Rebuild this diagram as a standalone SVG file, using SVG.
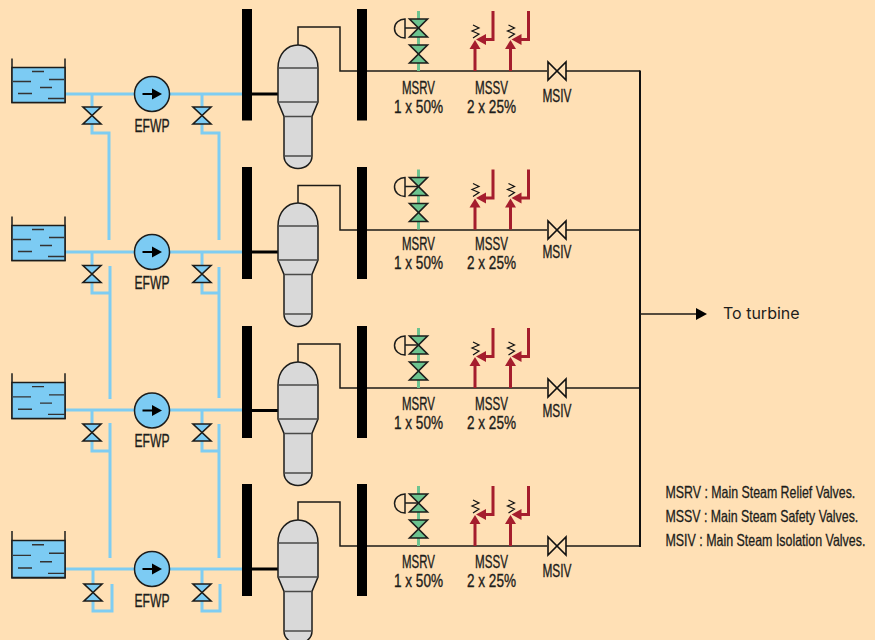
<svg xmlns="http://www.w3.org/2000/svg" xmlns:xlink="http://www.w3.org/1999/xlink" width="875" height="640" viewBox="0 0 875 640">
<style>
.pipe{fill:none;stroke:#7fcdf2;stroke-width:3}
.steam{fill:none;stroke:#1c1a16;stroke-width:1.5}
.main{fill:none;stroke:#111;stroke-width:2}
.link{fill:none;stroke:#000;stroke-width:3}
.bus{fill:#000}
.out{stroke:#1d1d1b;stroke-width:1.5}
.dash{stroke:#333;stroke-width:1.3}
.red{fill:none;stroke:#a51d2d;stroke-width:3}
.redh{fill:#a51d2d}
.lbl{font-family:"Liberation Sans",sans-serif;font-size:17.5px;fill:#1d1d1b;stroke:#1d1d1b;stroke-width:.35;text-anchor:middle}
.leg{font-family:"Liberation Sans",sans-serif;font-size:16.5px;fill:#1d1d1b;stroke:#1d1d1b;stroke-width:.3}
.tb{font-family:Inter,"Liberation Sans",sans-serif;font-size:16px;fill:#1d1d1b}
</style>
<defs>
<g id="feedvalve"><path d="M-9,-8.500H9L-9,8.500H9Z" fill="#7ccbf3" stroke="#1d1d1b" stroke-width="1.600"/></g>
<g id="greenvalve"><path d="M-9,-9H9L-9,9H9Z" fill="#6cc38f" stroke="#1d1d1b" stroke-width="1.600"/></g>
<g id="isovalve"><path d="M-9,-9V9L9,-9V9Z" fill="#ffe0b5" stroke="#111" stroke-width="1.600"/></g>
<g id="pumpsym">
<circle r="17.500" fill="#7ccbf3" class="out"/>
<path d="M-9.500,0H1" stroke="#000" stroke-width="2"/>
<path d="M0,-5.500L10,0L0,5.500Z" fill="#000"/>
</g>
<g id="tanksym">
<path d="M0,-9V35H53V-9" fill="none" class="out"/>
<path d="M0,0H53V35H0Z" fill="#7ccbf3" class="out"/>
<path class="dash" d="M20,4H32M37,12H52M1,14H19M28,20H40M6,26H20M36,31H53"/>
</g>
<g id="vesselsym">
<path d="M278,68C278,54 287,45 298,45C309,45 318,54 318,68V102L312,116.500V156C312,163 306,168.500 298,168.500C290,168.500 284,163 284,156V116.500L278,102Z" fill="#d9d9d9" class="out"/>
<path d="M278,68H318M278,102H318M284,116.500H312M284,156H312" fill="none" stroke="#4a4a48" stroke-width="1.500"/>
</g>
<g id="msrvsym">
<path d="M418.500,11V71" stroke="#6cc38f" stroke-width="3"/>
<use xlink:href="#greenvalve" x="418.500" y="28"/>
<use xlink:href="#greenvalve" x="418.500" y="54"/>
<path d="M405,28H418M405,19A10.500,9.500 0 0 0 405,38Z" fill="none" class="out"/>
</g>
<g id="mssvsym">
<path class="red" d="M475,71V48"/>
<path class="redh" d="M475,40L480.500,49H469.500Z"/>
<path class="red" d="M493,11V39.500H485"/>
<path class="redh" d="M476,39.500L486,34V45Z"/>
<path d="M473,25L479,28L472,31L479,34L473,38" fill="none" stroke="#111" stroke-width="1.200"/>
</g>
</defs>
<rect width="875" height="640" fill="#ffe0b5"/>
<g id="connectors">
<g id="feedwater">
<path class="pipe" d="M65,94H135M169,94H242M92,94V107M202,94V107M92,124V133H109V240M202,124V133H219V240"/>
<path class="pipe" d="M65,252H135M169,252H242M92,252V265M202,252V265M92,283V293H110M202,283V293H219M110,266V399M219,267V398"/>
<path class="pipe" d="M65,410H135M169,410H242M92,410V424M202,410V424M92,441V451H110M202,441V451H219M110,423V558M219,424V558"/>
<path class="pipe" d="M65,569H135M169,569H242M93,569V584M202,569V584M93,601V611H112V584M202,601V611H220V584"/>
</g>
<g id="links">
<path class="link" d="M252,94H278M252,252H278M252,410.500H278M252,569H278"/>
</g>
<g id="steam">
<path class="steam" d="M298,45V27H340V71H547M566,71H640"/>
<path class="steam" d="M298,203V185.500H340V230H547M566,230H640"/>
<path class="steam" d="M298,362V344H340V388H547M566,388H640"/>
<path class="steam" d="M298,520V502H340V546H547M566,546H640"/>
<path class="main" d="M640,70.500V547"/>
<path class="steam" d="M640,314H697"/>
<path d="M696,308L707,314L696,320Z" fill="#000"/>
</g>
</g>
<g id="tank-1"><use xlink:href="#tanksym" x="12" y="67.500"/></g>
<g id="tank-2"><use xlink:href="#tanksym" x="12" y="225.500"/></g>
<g id="tank-3"><use xlink:href="#tanksym" transform="translate(12,382.500) scale(1,1.030)"/></g>
<g id="tank-4"><use xlink:href="#tanksym" transform="translate(12,540.500) scale(1,1.060)"/></g>
<g id="pump-1"><use xlink:href="#pumpsym" x="152" y="94"/><text class="lbl" transform="translate(152,132) scale(.7,1)" textLength="50" lengthAdjust="spacingAndGlyphs">EFWP</text></g>
<g id="pump-2"><use xlink:href="#pumpsym" x="152" y="252"/><text class="lbl" transform="translate(152,289) scale(.7,1)" textLength="50" lengthAdjust="spacingAndGlyphs">EFWP</text></g>
<g id="pump-3"><use xlink:href="#pumpsym" x="152" y="410.500"/><text class="lbl" transform="translate(152,447) scale(.7,1)" textLength="50" lengthAdjust="spacingAndGlyphs">EFWP</text></g>
<g id="pump-4"><use xlink:href="#pumpsym" x="152" y="569"/><text class="lbl" transform="translate(152,607) scale(.7,1)" textLength="50" lengthAdjust="spacingAndGlyphs">EFWP</text></g>
<g id="feed-valves">
<use xlink:href="#feedvalve" x="92" y="115.500"/><use xlink:href="#feedvalve" x="202" y="115.500"/>
<use xlink:href="#feedvalve" x="92" y="274"/><use xlink:href="#feedvalve" x="202" y="274"/>
<use xlink:href="#feedvalve" x="92" y="432.500"/><use xlink:href="#feedvalve" x="202" y="432.500"/>
<use xlink:href="#feedvalve" x="93" y="592.500"/><use xlink:href="#feedvalve" x="202" y="592.500"/>
</g>
<g id="header-1"><rect class="bus" x="242" y="9" width="10" height="111.500"/><rect class="bus" x="357" y="9" width="10" height="111.500"/></g>
<g id="header-2"><rect class="bus" x="242" y="167" width="10" height="112"/><rect class="bus" x="357" y="167" width="10" height="112"/></g>
<g id="header-3"><rect class="bus" x="242" y="326" width="10" height="112"/><rect class="bus" x="357" y="326" width="10" height="112"/></g>
<g id="header-4"><rect class="bus" x="242" y="484" width="10" height="112"/><rect class="bus" x="357" y="484" width="10" height="112"/></g>
<g id="vessel-1"><use xlink:href="#vesselsym"/></g>
<g id="vessel-2"><use xlink:href="#vesselsym" y="158"/></g>
<g id="vessel-3"><use xlink:href="#vesselsym" y="317"/></g>
<g id="vessel-4"><use xlink:href="#vesselsym" y="475"/></g>
<g id="msrv-1"><use xlink:href="#msrvsym"/><text class="lbl" transform="translate(418.500,93.500) scale(.7,1)" textLength="47" lengthAdjust="spacingAndGlyphs">MSRV</text><text class="lbl" transform="translate(418.500,112.500) scale(.7,1)" textLength="70" lengthAdjust="spacingAndGlyphs">1 x 50%</text></g>
<g id="msrv-2"><use xlink:href="#msrvsym" y="158.500"/><text class="lbl" transform="translate(418.500,249.500) scale(.7,1)" textLength="47" lengthAdjust="spacingAndGlyphs">MSRV</text><text class="lbl" transform="translate(418.500,268.500) scale(.7,1)" textLength="70" lengthAdjust="spacingAndGlyphs">1 x 50%</text></g>
<g id="msrv-3"><use xlink:href="#msrvsym" y="317"/><text class="lbl" transform="translate(418.500,409.500) scale(.7,1)" textLength="47" lengthAdjust="spacingAndGlyphs">MSRV</text><text class="lbl" transform="translate(418.500,428.500) scale(.7,1)" textLength="70" lengthAdjust="spacingAndGlyphs">1 x 50%</text></g>
<g id="msrv-4"><use xlink:href="#msrvsym" y="475"/><text class="lbl" transform="translate(418.500,568) scale(.7,1)" textLength="47" lengthAdjust="spacingAndGlyphs">MSRV</text><text class="lbl" transform="translate(418.500,587) scale(.7,1)" textLength="70" lengthAdjust="spacingAndGlyphs">1 x 50%</text></g>
<g id="mssv-1"><use xlink:href="#mssvsym"/><use xlink:href="#mssvsym" x="35.500"/><text class="lbl" transform="translate(491.500,93.500) scale(.7,1)" textLength="47" lengthAdjust="spacingAndGlyphs">MSSV</text><text class="lbl" transform="translate(491.500,112.500) scale(.7,1)" textLength="70" lengthAdjust="spacingAndGlyphs">2 x 25%</text></g>
<g id="mssv-2"><use xlink:href="#mssvsym" y="158.500"/><use xlink:href="#mssvsym" x="35.500" y="158.500"/><text class="lbl" transform="translate(491.500,249.500) scale(.7,1)" textLength="47" lengthAdjust="spacingAndGlyphs">MSSV</text><text class="lbl" transform="translate(491.500,268.500) scale(.7,1)" textLength="70" lengthAdjust="spacingAndGlyphs">2 x 25%</text></g>
<g id="mssv-3"><use xlink:href="#mssvsym" y="317"/><use xlink:href="#mssvsym" x="35.500" y="317"/><text class="lbl" transform="translate(491.500,409.500) scale(.7,1)" textLength="47" lengthAdjust="spacingAndGlyphs">MSSV</text><text class="lbl" transform="translate(491.500,428.500) scale(.7,1)" textLength="70" lengthAdjust="spacingAndGlyphs">2 x 25%</text></g>
<g id="mssv-4"><use xlink:href="#mssvsym" y="475"/><use xlink:href="#mssvsym" x="35.500" y="475"/><text class="lbl" transform="translate(491.500,568) scale(.7,1)" textLength="47" lengthAdjust="spacingAndGlyphs">MSSV</text><text class="lbl" transform="translate(491.500,587) scale(.7,1)" textLength="70" lengthAdjust="spacingAndGlyphs">2 x 25%</text></g>
<g id="msiv-1"><use xlink:href="#isovalve" x="557" y="71"/><text class="lbl" transform="translate(557,101.500) scale(.7,1)" textLength="41.500" lengthAdjust="spacingAndGlyphs">MSIV</text></g>
<g id="msiv-2"><use xlink:href="#isovalve" x="557" y="230"/><text class="lbl" transform="translate(557,257.500) scale(.7,1)" textLength="41.500" lengthAdjust="spacingAndGlyphs">MSIV</text></g>
<g id="msiv-3"><use xlink:href="#isovalve" x="557" y="388"/><text class="lbl" transform="translate(557,416.500) scale(.7,1)" textLength="41.500" lengthAdjust="spacingAndGlyphs">MSIV</text></g>
<g id="msiv-4"><use xlink:href="#isovalve" x="557" y="546"/><text class="lbl" transform="translate(557,577) scale(.7,1)" textLength="41.500" lengthAdjust="spacingAndGlyphs">MSIV</text></g>
<g id="turbine-label"><text class="tb" x="723" y="319">To turbine</text></g>
<g id="legend">
<text class="leg" transform="translate(665.500,497.500) scale(.75,1)" textLength="253" lengthAdjust="spacingAndGlyphs">MSRV : Main Steam Relief Valves.</text>
<text class="leg" transform="translate(665.500,521.500) scale(.75,1)" textLength="257" lengthAdjust="spacingAndGlyphs">MSSV : Main Steam Safety Valves.</text>
<text class="leg" transform="translate(665.500,545.500) scale(.75,1)" textLength="266.500" lengthAdjust="spacingAndGlyphs">MSIV : Main Steam Isolation Valves.</text>
</g>
</svg>
